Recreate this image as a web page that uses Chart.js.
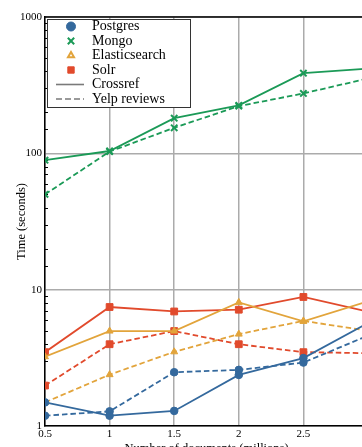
<!DOCTYPE html>
<html>
<head>
<meta charset="utf-8">
<script src="https://cdn.jsdelivr.net/npm/chart.js@4"></script>
<style>
html, body { margin: 0; padding: 0; background: #fff; overflow: hidden; }
#wrap { width: 362px; height: 447px; overflow: hidden; }
</style>
</head>
<body>
<div id="wrap"><canvas id="timing" width="380" height="462"></canvas></div>
<script>
// documents indexed (millions)
var docs = [0.5, 1, 1.5, 2, 2.5, 3];
var engines = ['Postgres', 'Mongo', 'Elasticsearch', 'Solr'];
var corpora = ['Crossref', 'Yelp reviews'];

// query time in seconds
var postgresCrossref = [1.49, 1.19, 1.29, 2.37, 3.15, 5.7];
var postgresYelp = [1.19, 1.28, 2.48, 2.58, 2.92, 4.6];
var mongoCrossref = [89, 104, 181, 225, 387, 418];
var mongoYelp = [50, 103, 154, 222, 275, 354];
var elasticCrossref = [3.22, 4.97, 4.97, 8.07, 5.85, 8.2];
var elasticYelp = [1.49, 2.38, 3.5, 4.72, 5.9, 5.0];
var solrCrossref = [3.48, 7.46, 6.92, 7.13, 8.84, 6.9];
var solrYelp = [1.98, 3.98, 4.97, 3.98, 3.48, 3.42];

var xTicks = [0.5, 1, 1.5, 2, 2.5, 3];
var yTicks = [1, 10, 100, 1000];

var series = [
    [postgresCrossref, postgresYelp],
    [mongoCrossref, mongoYelp],
    [elasticCrossref, elasticYelp],
    [solrCrossref, solrYelp]
];
var colors = ['#34699d', '#1b9a57', '#e2a43b', '#e14a2c'];
var markers = ['circle', 'crossRot', 'triangle', 'rect'];
var markerRadius = [3.8, 4.5, 4, 4.8];
var serif = '"Liberation Serif", "DejaVu Serif", serif';

var datasets = [];
engines.forEach(function (name, i) {
    corpora.forEach(function (corpus, j) {
        datasets.push({
            label: name + ' ' + corpus,
            data: series[i][j].map(function (v, k) { return { x: docs[k], y: v }; }),
            borderColor: colors[i],
            backgroundColor: colors[i],
            borderWidth: 1.8,
            borderDash: j ? [5.5, 3] : [],
            pointStyle: markers[i],
            pointRadius: markerRadius[i],
            pointBorderWidth: markers[i] == 'crossRot' ? 2 : 1,
            pointHoverRadius: markerRadius[i],
            tension: 0
        });
    });
});

function isMajor(v) {
    return yTicks.indexOf(v) >= 0;
}

// minor log ticks on the inside of the y axis, black frame on top
var frame = {
    id: 'frame',
    beforeDatasetsDraw: function (chart) {
        var ctx = chart.ctx, a = chart.chartArea, y = chart.scales.y;
        ctx.save();
        ctx.strokeStyle = '#000';
        ctx.lineWidth = 1;
        y.ticks.forEach(function (t) {
            if (isMajor(t.value)) return;
            var py = Math.round(y.getPixelForValue(t.value)) + 0.5;
            ctx.beginPath();
            ctx.moveTo(a.left, py);
            ctx.lineTo(a.left + 3, py);
            ctx.stroke();
        });
        ctx.lineWidth = 1.5;
        ctx.beginPath();
        ctx.moveTo(a.left, a.top);
        ctx.lineTo(a.right, a.top);
        ctx.stroke();
        ctx.restore();
    }
};

// legend box in the upper left corner
var legendBox = {
    id: 'legendBox',
    afterDraw: function (chart) {
        var ctx = chart.ctx, a = chart.chartArea;
        var left = a.left + 2, top = a.top + 2, w = 143, rowH = 14.5;
        var rows = engines.length + corpora.length;
        ctx.save();
        ctx.fillStyle = '#fff';
        ctx.fillRect(left, top, w, rowH * rows + 1);
        ctx.strokeStyle = '#333';
        ctx.lineWidth = 1;
        ctx.strokeRect(left + 0.5, top + 0.5, w, rowH * rows + 1);
        ctx.font = '14px ' + serif;
        ctx.textBaseline = 'middle';
        engines.forEach(function (name, i) {
            var cy = top + 7.5 + i * rowH;
            ctx.fillStyle = markers[i] == 'triangle' ? '#fff' : colors[i];
            ctx.strokeStyle = colors[i];
            ctx.lineWidth = markers[i] == 'rect' || markers[i] == 'circle' ? 1 : 2;
            Chart.helpers.drawPoint(ctx, {
                pointStyle: markers[i],
                radius: markers[i] == 'triangle' ? 3.5 : 4.5,
                borderWidth: ctx.lineWidth
            }, left + 24, cy);
            ctx.fillStyle = '#000';
            ctx.fillText(name, left + 45, cy);
        });
        corpora.forEach(function (name, j) {
            var cy = top + 7.5 + (engines.length + j) * rowH;
            ctx.strokeStyle = '#7a7a7a';
            ctx.lineWidth = 1.6;
            ctx.setLineDash(j ? [6, 3] : []);
            ctx.beginPath();
            ctx.moveTo(left + 9, cy);
            ctx.lineTo(left + 37, cy);
            ctx.stroke();
            ctx.setLineDash([]);
            ctx.fillStyle = '#000';
            ctx.fillText(name, left + 45, cy);
        });
        ctx.restore();
    }
};

new Chart(document.getElementById('timing').getContext('2d'), {
    type: 'line',
    data: { datasets: datasets },
    options: {
        responsive: false,
        animation: false,
        layout: { padding: { top: 17, right: 12, left: 0, bottom: 0 } },
        plugins: {
            legend: { display: false },
            tooltip: { enabled: false }
        },
        scales: {
            x: {
                type: 'linear',
                min: 0.5,
                max: 3,
                afterFit: function (s) { s.height = 36; },
                afterBuildTicks: function (s) {
                    s.ticks = xTicks.map(function (v) { return { value: v }; });
                },
                ticks: {
                    color: '#000',
                    padding: 2,
                    maxRotation: 0,
                    font: { family: serif, size: 11 },
                    callback: function (v) { return String(v); }
                },
                grid: { color: '#ababab', lineWidth: 1.5, drawTicks: false },
                border: { color: '#000', width: 1.5 },
                title: {
                    display: true,
                    text: 'Number of documents (millions)',
                    color: '#000',
                    font: { family: serif, size: 12.5 },
                    padding: { top: 0, bottom: 6 }
                }
            },
            y: {
                type: 'logarithmic',
                min: 1,
                max: 1000,
                afterFit: function (s) { s.width = 45; },
                ticks: {
                    color: '#000',
                    padding: 3,
                    autoSkip: false,
                    font: { family: serif, size: 11 },
                    callback: function (v) { return isMajor(v) ? String(v) : ''; }
                },
                grid: {
                    drawTicks: false,
                    lineWidth: 1.5,
                    color: function (c) {
                        return c.tick && isMajor(c.tick.value) ? '#ababab' : 'rgba(0,0,0,0)';
                    }
                },
                border: { color: '#000', width: 1.5 },
                title: {
                    display: true,
                    text: 'Time (seconds)',
                    color: '#000',
                    font: { family: serif, size: 12.5 },
                    padding: { top: 14, bottom: 0 }
                }
            }
        }
    },
    plugins: [frame, legendBox]
});
</script>
</body>
</html>
